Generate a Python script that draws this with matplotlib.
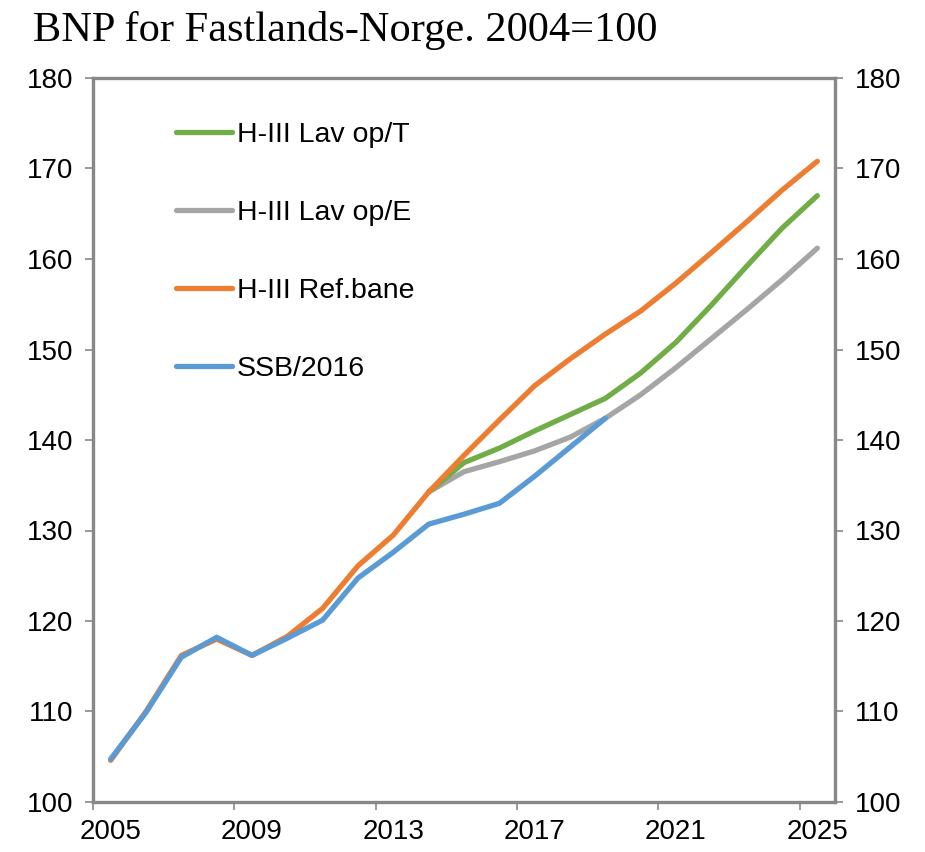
import matplotlib.pyplot as plt
from matplotlib.ticker import FixedLocator, NullFormatter, FixedFormatter

# data (index 2004=100)
years = list(range(2005, 2026))
ssb_years = list(range(2005, 2020))
ssb = [104.75, 109.9, 116.0, 118.2, 116.2, 118.1, 120.1, 124.75, 127.6, 130.7,
       131.8, 133.0, 136.0, 139.2, 142.4]
ref = [104.6, 110.0, 116.2, 118.0, 116.2, 118.3, 121.4, 126.1, 129.5, 134.25,
       138.3, 142.2, 146.0, 148.95, 151.7, 154.25, 157.35, 160.7, 164.1, 167.6, 170.8]
alt_years = list(range(2014, 2026))
lav_t = [134.25, 137.5, 139.1, 141.0, 142.8, 144.6, 147.4, 150.8, 154.9, 159.2, 163.4, 167.0]
lav_e = [134.25, 136.5, 137.6, 138.8, 140.3, 142.4, 145.0, 148.0, 151.2, 154.4, 157.7, 161.2]

labels = ['H-III Lav op/T', 'H-III Lav op/E', 'H-III Ref.bane', 'SSB/2016']
colors = ['#70AD47', '#A5A5A5', '#ED7D31', '#5B9BD5']
xtick_years = [2005, 2009, 2013, 2017, 2021, 2025]
yticks = [100, 110, 120, 130, 140, 150, 160, 170, 180]

plt.rcParams['font.family'] = ['Liberation Sans', 'DejaVu Sans']

fig = plt.figure(figsize=(9.25, 8.52), dpi=100)
ax = fig.add_axes([93/925, 50/852, 742/925, 724/852])

lw = 3.8
l_e, = ax.plot(alt_years, lav_e, color=colors[1], lw=lw, solid_capstyle='round', solid_joinstyle='round')
l_t, = ax.plot(alt_years, lav_t, color=colors[0], lw=lw, solid_capstyle='round', solid_joinstyle='round')
l_r, = ax.plot(years, ref, color=colors[2], lw=lw, solid_capstyle='round', solid_joinstyle='round')
l_s, = ax.plot(ssb_years, ssb, color=colors[3], lw=lw, solid_capstyle='round', solid_joinstyle='round')

ax.set_xlim(2004.5, 2025.5)
ax.set_ylim(100, 180)

# category style x axis: tick marks between categories, labels centred
ax.xaxis.set_major_locator(FixedLocator([y - 0.5 for y in xtick_years]))
ax.xaxis.set_major_formatter(NullFormatter())
ax.xaxis.set_minor_locator(FixedLocator(xtick_years))
ax.xaxis.set_minor_formatter(FixedFormatter([str(y) for y in xtick_years]))
ax.tick_params(axis='x', which='major', direction='out', length=6, width=1.2, color='#888888')
ax.tick_params(axis='x', which='minor', length=0, pad=12, labelsize=20)

ax.set_yticks(yticks)
ax.tick_params(axis='y', which='major', direction='out', length=6, width=1.2, color='#888888',
               labelsize=20, pad=8, right=True, labelright=True)

for s in ax.spines.values():
    s.set_color('#888888')
    s.set_linewidth(2.4)

leg = ax.legend([l_t, l_e, l_r, l_s], labels, loc='upper left',
                bbox_to_anchor=(176/925, 1 - 122/852), bbox_transform=fig.transFigure,
                frameon=False, fontsize=20.5, handlelength=1.95, handletextpad=0.18,
                labelspacing=1.83, borderpad=0, borderaxespad=0)

fig.text(33/925, 1 - 41/852, 'BNP for Fastlands-Norge. 2004=100', fontsize=30.5,
         family=['Liberation Serif', 'DejaVu Serif'], va='baseline')

fig.savefig('out.png', dpi=100)
